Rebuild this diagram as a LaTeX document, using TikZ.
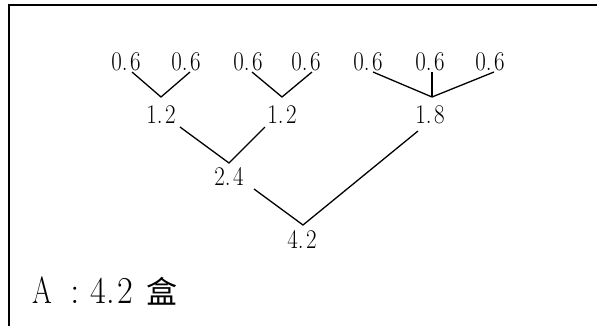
\documentclass[tikz,border=0pt]{standalone}
\usepackage{graphicx}
\usepackage{fontspec}
\newfontfamily\cjk{Noto Sans CJK SC}
\usetikzlibrary{calc}
\newcommand{\nrw}[1]{\scalebox{0.85}[1]{#1}}
\newcommand{\dnum}[2]{\nrw{#1.\kern3pt#2}}
\begin{document}
\begin{tikzpicture}[x=1pt,y=-1pt,
  lbl/.style={anchor=base,inner sep=0pt,font=\fontsize{27}{32}\selectfont},
  big/.style={anchor=base,inner sep=0pt,font=\fontsize{38}{44}\selectfont},
  conn/.style={line width=1.3pt}]
\useasboundingbox (0,0) rectangle (597,325);
% frame
\draw[line width=1.6pt] (8.7,326) -- (8.7,4.8) -- (598,4.8);
% labels
\node[lbl] (a1) at (126,70) {\dnum{0}{6}};
\node[lbl] (a2) at (186,70) {\dnum{0}{6}};
\node[lbl] (a3) at (248,70) {\dnum{0}{6}};
\node[lbl] (a4) at (306,70) {\dnum{0}{6}};
\node[lbl] (a5) at (368,70) {\dnum{0}{6}};
\node[lbl] (a6) at (430,70) {\dnum{0}{6}};
\node[lbl] (a7) at (490,70) {\dnum{0}{6}};
\node[lbl] (b1) at (161,123) {\dnum{1}{2}};
\node[lbl] (b2) at (282,123) {\dnum{1}{2}};
\node[lbl] (b3) at (430,123) {\dnum{1}{8}};
\node[lbl] (c1) at (229,185) {\dnum{2}{4}};
\node[lbl] (d1) at (302,248) {\dnum{4}{2}};
% vertices
\coordinate (v1) at (161,97);
\coordinate (v2) at (282,97);
\coordinate (v3) at (432,97);
\coordinate (v4) at (229,163);
\coordinate (v5) at (303,225);
% connectors
\draw[conn] ($(a1.base)+(6,2)$) -- (v1) -- ($(a2.base)+(4,2)$);
\draw[conn] ($(a3.base)+(4,2)$) -- (v2) -- ($(a4.base)+(6,2)$);
\draw[conn] ($(a5.base)+(5,2)$) -- (v3) -- ($(a7.base)+(4,2)$);
\draw[conn] ($(a6.base)+(2,2)$) -- (v3);
\draw[conn] ($(b1.base)+(19,4)$) -- (v4) -- ($(b2.base)+(-17,4)$);
\draw[conn] ($(c1.base)+(25,4)$) -- (v5) -- ($(b3.base)+(-12,8)$);
% answer
\node[big] (ansA) at (42.5,303) {\scalebox{0.75}[1]{A}};
\node[big] (ansC) at (75,303) {:};
\node[big] (ansN) at (112,303) {\scalebox{0.9}[1]{4.\kern3pt 2}};
\node[anchor=base,inner sep=0pt,font=\cjk\fontsize{31}{36}\selectfont] (ansU) at (162,303) {盒};
\end{tikzpicture}
\end{document}
